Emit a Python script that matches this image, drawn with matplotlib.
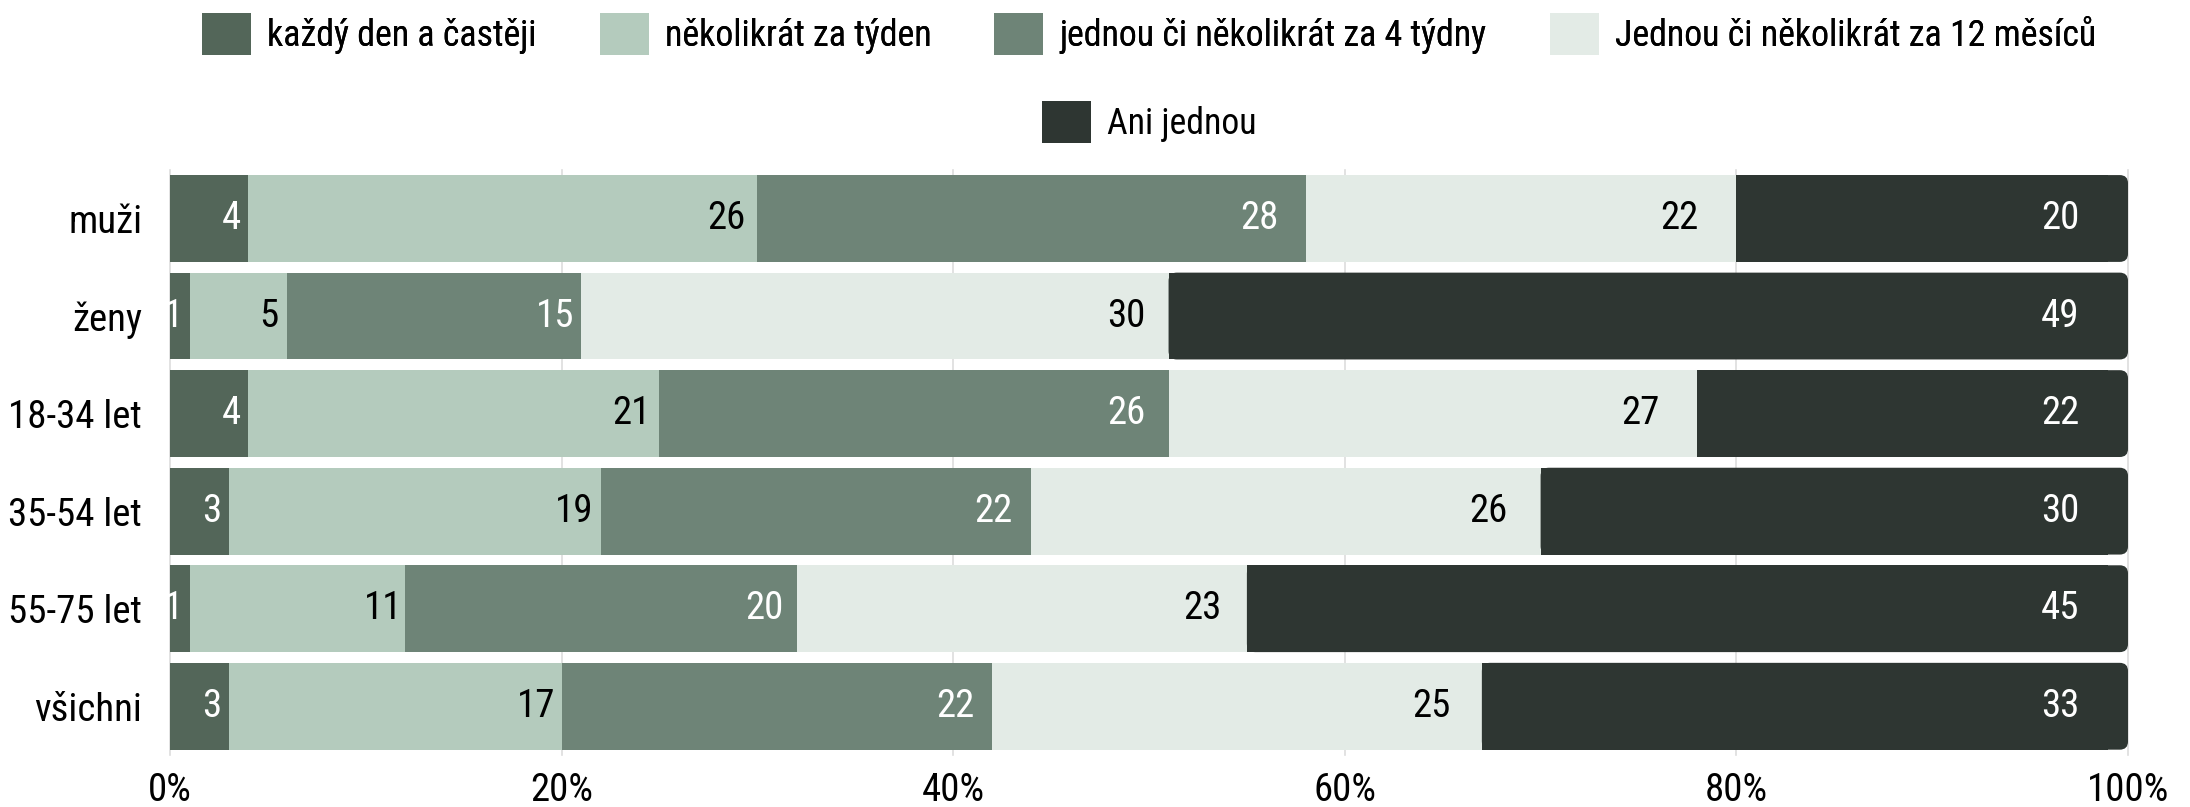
import matplotlib
matplotlib.use('Agg')
import matplotlib.pyplot as plt
from matplotlib import font_manager as fm
from matplotlib.patches import FancyBboxPatch, Patch
import numpy as np

# ---------------- data ----------------
categories = ['muži', 'ženy', '18-34 let', '35-54 let', '55-75 let', 'všichni']
series_names = ['každý den a častěji', 'několikrát za týden',
                'jednou či několikrát za 4 týdny',
                'Jednou či několikrát za 12 měsíců', 'Ani jednou']
kazdy_den = [4, 1, 4, 3, 1, 3]
nekolikrat_tyden = [26, 5, 21, 19, 11, 17]
ctyri_tydny = [28, 15, 26, 22, 20, 22]
dvanact_mesicu = [22, 30, 27, 26, 23, 25]
ani_jednou = [20, 49, 22, 30, 45, 33]
x_ticks = [0, 20, 40, 60, 80, 100]
x_tick_labels = ['0%', '20%', '40%', '60%', '80%', '100%']

series = [kazdy_den, nekolikrat_tyden, ctyri_tydny, dvanact_mesicu, ani_jednou]
colors = ['#536659', '#b4cbbd', '#6e8477', '#e3ebe6', '#2e3632']
label_colors = ['white', 'black', 'white', 'black', 'white']

# ---------------- font ----------------
def pick_font():
    fl = fm.fontManager.ttflist
    pref = ['Roboto Condensed', 'Open Sans Condensed', 'DejaVu Sans Condensed',
            'Liberation Sans Narrow', 'Noto Sans Condensed']
    for p in pref:
        for f in fl:
            if f.name == p and f.style == 'normal' and f.weight in (400, 'normal', 'regular'):
                return f.name, f.stretch
    for f in fl:
        if f.stretch in ('condensed', 'semi-condensed') and f.style == 'normal' \
                and f.weight in (400, 'normal', 'regular'):
            return f.name, f.stretch
    for f in fl:
        if ('condensed' in f.name.lower() or 'narrow' in f.name.lower()) and f.style == 'normal':
            return f.name, f.stretch
    return 'Roboto', 'normal'

fam, stretch = pick_font()
plt.rcParams['font.family'] = [fam, 'DejaVu Sans']
plt.rcParams['font.stretch'] = stretch

FS = 28
LFS = 25.8

fig = plt.figure(figsize=(21.9, 8.07), dpi=100)
ax = fig.add_axes([0.0776, 0.0644, 0.9717 - 0.0776, 0.7897 - 0.0644])

y = np.arange(len(categories))
bar_h = 0.89
left = np.zeros(len(categories))
n_series = len(series)
for i, (vals, col) in enumerate(zip(series, colors)):
    vals = np.array(vals, dtype=float)
    if i < n_series - 1:
        ax.barh(y, vals, left=left, height=bar_h, color=col, zorder=2, linewidth=0)
    else:
        # last segment: rounded right corners
        r_x = 0.42   # rounding in data units along x
        r_y = 0.085
        for yi, l, v in zip(y, left, vals):
            box = FancyBboxPatch((l, yi - bar_h / 2), v, bar_h,
                                 boxstyle='round,pad=0,rounding_size=%f' % r_x,
                                 mutation_aspect=r_y / r_x,
                                 facecolor=col, edgecolor='none', zorder=2)
            ax.add_patch(box)
        ax.barh(y, vals - 1.0, left=left, height=bar_h, color=col, zorder=2, linewidth=0)
    ends = left + vals
    for yi, e, v in zip(y, ends, vals):
        xl = e * 0.973 - 0.77
        ax.text(xl, yi, '%d' % v, ha='center', va='center', fontsize=FS,
                color=label_colors[i], zorder=3)
    left = ends

ax.set_xlim(0, 100)
ax.set_ylim(len(categories) - 0.5, -0.5)
ax.set_yticks(y)
ax.set_yticklabels(categories, fontsize=FS)
ax.set_xticks(x_ticks)
ax.set_xticklabels(x_tick_labels, fontsize=FS)
ax.tick_params(axis='y', length=0, pad=20)
ax.tick_params(axis='x', length=0, pad=12)
ax.grid(axis='x', color='#dddddd', linewidth=1.2, zorder=0)
ax.set_axisbelow(True)
for gl in ax.get_xgridlines():
    gl.set_clip_on(False)
for s in ax.spines.values():
    s.set_visible(False)

handles = [Patch(facecolor=c, edgecolor='none') for c in colors]
cx = 0.0776 + (0.9717 - 0.0776) / 2
leg_kw = dict(loc='center', frameon=False, fontsize=LFS, handlelength=1.367,
              handleheight=1.45, handletextpad=0.45, columnspacing=1.76,
              borderpad=0, borderaxespad=0)
leg1 = fig.legend(handles[:4], series_names[:4], bbox_to_anchor=(cx, 0.958),
                  ncol=4, **leg_kw)
leg2 = fig.legend(handles[4:], series_names[4:], bbox_to_anchor=(cx, 0.849),
                  ncol=1, **leg_kw)
fig.add_artist(leg1)

fig.savefig('out.png', dpi=100, facecolor='white')
